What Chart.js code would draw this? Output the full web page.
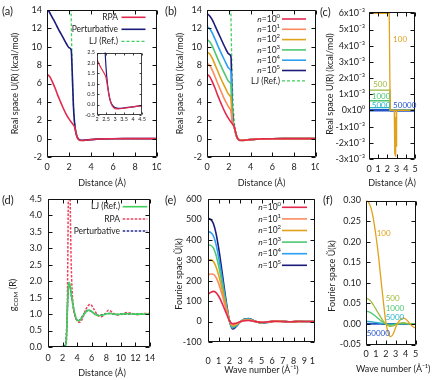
<!DOCTYPE html>
<html lang="en">
<head>
<meta charset="UTF-8">
<title>Pair potential panels</title>
<script src="https://cdn.jsdelivr.net/npm/chart.js"></script>
<style>
  body { margin: 0; background: #fff; }
  #fig { position: relative; width: 440px; height: 380px; overflow: hidden; font-family: Lato, "DejaVu Sans", sans-serif; }
  #fig canvas { position: absolute; }
  .tag { position: absolute; z-index: 5; font-size: 11px; line-height: 1; color: #222; }
</style>
</head>
<body>
<div id="fig"></div>
<script>
// ---------- data ----------
// (a)/(b) real-space potential vs distance (Å)
const rGrid = [0, 0.25, 0.5, 0.75, 1, 1.25, 1.5, 1.75, 2, 2.2, 2.3, 2.4, 2.5, 2.6, 2.7, 2.8, 2.9, 3.0, 3.2, 3.5, 4, 4.5, 5, 6, 7, 8, 10];
const uRPA  = [7.0, 6.75, 6.15, 5.45, 4.65, 3.95, 3.25, 2.65, 2.15, 1.8, 1.65, 1.5, 1.3, 0.8, 0.35, 0.02, -0.12, -0.2, -0.21, -0.17, -0.11, -0.05, -0.03, -0.01, 0, 0, 0];
const uPert = [14.25, 13.7, 13.15, 12.6, 12.0, 11.45, 10.9, 10.35, 9.9, 9.65, 7.0, 3.6, 1.8, 0.85, 0.3, 0.05, -0.08, -0.14, -0.18, -0.16, -0.11, -0.05, -0.03, -0.01, 0, 0, 0];
const rLJ = [2.15, 2.2, 2.25, 2.3, 2.4, 2.5, 2.6, 2.7, 2.8, 2.9, 3.0, 3.2, 3.5, 4, 4.5, 5, 6, 7, 8, 10];
const uLJ = [18, 13.2, 9.8, 7.0, 3.7, 1.85, 0.9, 0.35, 0.02, -0.12, -0.18, -0.21, -0.18, -0.12, -0.06, -0.035, -0.012, -0.005, 0, 0];
const uN10  = [8.2, 7.95, 7.4, 6.7, 5.95, 5.25, 4.55, 3.95, 3.4, 2.95, 2.0, 1.55, 1.2, 0.75, 0.3, 0.05, -0.08, -0.14, -0.18, -0.16, -0.11, -0.05, -0.03, -0.01, 0, 0, 0];
const uN100 = [9.45, 9.2, 8.7, 8.0, 7.3, 6.6, 5.95, 5.35, 4.8, 4.4, 2.1, 1.55, 1.2, 0.75, 0.3, 0.05, -0.08, -0.14, -0.18, -0.16, -0.11, -0.05, -0.03, -0.01, 0, 0, 0];
const uN1e3 = [10.8, 10.55, 10.05, 9.35, 8.65, 8.0, 7.35, 6.75, 6.2, 5.85, 2.4, 1.6, 1.2, 0.75, 0.3, 0.05, -0.08, -0.14, -0.18, -0.16, -0.11, -0.05, -0.03, -0.01, 0, 0, 0];
const uN1e4 = [12.2, 11.95, 11.45, 10.8, 10.1, 9.45, 8.8, 8.2, 7.65, 7.3, 3.0, 1.7, 1.25, 0.75, 0.3, 0.05, -0.08, -0.14, -0.18, -0.16, -0.11, -0.05, -0.03, -0.01, 0, 0, 0];
const uN1e5 = [13.6, 13.35, 12.9, 12.25, 11.6, 10.95, 10.3, 9.7, 9.2, 8.9, 4.0, 1.9, 1.3, 0.8, 0.3, 0.05, -0.08, -0.14, -0.18, -0.16, -0.11, -0.05, -0.03, -0.01, 0, 0, 0];
const nLabels = ['*n*=10^{0}', '*n*=10^{1}', '*n*=10^{2}', '*n*=10^{3}', '*n*=10^{4}', '*n*=10^{5}'];

// (c) zoom on small potentials
const cSeries = ['100', '500', '1000', '5000', '50000'];
const cX100 = [0, 2.2, 2.3, 2.75, 2.78, 2.82, 2.86, 2.9, 2.94, 3.0, 5];
const cU100 = [0.006, 0.006, 0, 0, -0.0027, -0.0002, -0.0028, -0.0004, -0.0022, 0, 0];
const cXStep = [0, 2.28, 2.32, 5];
const cU500 = [0.00125, 0.00125, 0, 0];
const cU1000 = [0.0006, 0.0006, 0, 0];
const cU5000 = [0.00017, 0.00017, 0, 0];
const cU50000 = [0.00001, 0.00001, 0, 0];
const cYLabels = ['-3x10⁻³', '-2x10⁻³', '-1x10⁻³', '0x10⁰', '1x10⁻³', '2x10⁻³', '3x10⁻³', '4x10⁻³', '5x10⁻³', '6x10⁻³'];

// (d) g_COM(R)
const rG = [0, 2.2, 2.4, 2.5, 2.6, 2.7, 2.8, 2.9, 3.0, 3.2, 3.5, 3.8, 4.1, 4.4, 4.8, 5.2, 5.6, 6.0, 6.5, 7.0, 7.5, 8.0, 8.5, 9.0, 9.5, 10, 11, 12, 13, 14];
const gLJ   = [0, 0, 0.02, 0.2, 0.7, 1.35, 1.8, 1.97, 1.9, 1.6, 1.2, 0.92, 0.8, 0.82, 0.95, 1.07, 1.12, 1.08, 0.99, 0.95, 0.97, 1.01, 1.02, 1.0, 0.99, 1.0, 1.01, 1.0, 1.0, 1.0];
const gPert = [0, 0.02, 0.08, 0.28, 0.78, 1.4, 1.82, 1.95, 1.88, 1.58, 1.18, 0.9, 0.8, 0.83, 0.96, 1.08, 1.11, 1.07, 0.99, 0.96, 0.98, 1.01, 1.02, 1.0, 0.99, 1.0, 1.0, 1.0, 1.0, 1.0];
const rGRPA = [0, 2.3, 2.5, 2.6, 2.7, 2.8, 2.9, 3.0, 3.1, 3.2, 3.4, 3.7, 4.0, 4.3, 4.7, 5.2, 5.8, 6.3, 6.8, 7.3, 7.8, 8.3, 8.8, 9.5, 10.2, 10.8, 11.5, 12.3, 13, 14];
const gRPA  = [0, 0, 0.1, 0.6, 2.2, 4.8, 6.0, 5.2, 3.6, 2.4, 1.4, 0.95, 0.8, 0.75, 0.85, 1.15, 1.3, 1.15, 0.97, 0.92, 1.0, 1.12, 1.06, 0.97, 1.0, 1.05, 1.02, 0.98, 1.02, 1.02];

// (e) Fourier-space potential
const kGrid = [0, 0.25, 0.5, 0.75, 1.0, 1.25, 1.5, 1.75, 2.0, 2.3, 2.6, 3.0, 3.4, 3.8, 4.3, 5.0, 5.6, 6.3, 7.0, 7.7, 8.5, 9.2, 10];
const uk1   = [134, 143, 148, 142, 124, 98, 67, 35, 4, -11, -8, -1, 4, 5, 1, -3, -1, 1, 0, -1, 0, 0, 0];
const uk10  = [228, 233, 232, 216, 185, 144, 97, 49, 5, -16, -12, -1, 6, 7, 2, -4, -2, 2, 0, -1, 1, 0, 0];
const uk100 = [302, 302, 294, 268, 226, 173, 114, 56, 5, -21, -16, -2, 8, 9, 2, -5, -2, 2, 1, -1, 1, 0, 0];
const uk1e3 = [375, 373, 361, 326, 272, 206, 134, 65, 5, -26, -20, -2, 10, 11, 3, -6, -3, 3, 1, -1, 1, 0, 0];
const uk1e4 = [440, 436, 420, 378, 314, 236, 152, 73, 5, -31, -23, -3, 11, 13, 3, -7, -3, 3, 1, -2, 1, 0, 0];
const uk1e5 = [505, 500, 480, 432, 358, 268, 172, 82, 5, -36, -26, -3, 13, 15, 4, -8, -4, 4, 1, -2, 2, 0, 0];

// (f) Fourier-space, small n
const fGrid = [0, 0.25, 0.5, 0.75, 1, 1.25, 1.5, 1.75, 2, 2.25, 2.5, 2.75, 3, 3.25, 3.5, 3.75, 4, 4.25, 4.5, 4.75, 5];
const fU100   = [0.300, 0.296, 0.282, 0.255, 0.215, 0.168, 0.11, 0.055, 0.005, -0.022, -0.031, -0.024, -0.008, 0.004, 0.011, 0.014, 0.012, 0.006, -0.001, -0.007, -0.010];
const fU500   = [0.062, 0.060, 0.055, 0.046, 0.036, 0.026, 0.016, 0.007, 0.0, -0.004, -0.006, -0.005, -0.002, 0.001, 0.002, 0.003, 0.002, 0.001, 0, -0.001, -0.001];
const fU1000  = [0.031, 0.030, 0.027, 0.023, 0.018, 0.013, 0.008, 0.003, 0.0, -0.002, -0.003, -0.002, -0.001, 0, 0.001, 0.001, 0.001, 0, 0, 0, 0];
const fU5000  = [0.006, 0.006, 0.0055, 0.0046, 0.0036, 0.0026, 0.0016, 0.0007, 0, -0.0004, -0.0006, -0.0005, -0.0002, 0, 0.0002, 0.0003, 0.0002, 0.0001, 0, 0, 0];
const fU50000 = [0.0006, 0.0006, 0.00055, 0.00046, 0.00036, 0.00026, 0.00016, 0.00007, 0, 0, 0, 0, 0, 0, 0, 0, 0, 0, 0, 0, 0];

// tick values
const rTicks10 = [0, 2, 4, 6, 8, 10];
const uTicks = [-2, 0, 2, 4, 6, 8, 10, 12, 14];
const insetX = [2, 2.5, 3, 3.5, 4, 4.5];
const insetY = [-0.5, 0, 0.5, 1, 1.5, 2, 2.5];
const ticks0to5 = [0, 1, 2, 3, 4, 5];
const cYTicks = [-0.003, -0.002, -0.001, 0, 0.001, 0.002, 0.003, 0.004, 0.005, 0.006];
const dXTicks = [0, 2, 4, 6, 8, 10, 12, 14];
const dYTicks = [0, 0.5, 1, 1.5, 2, 2.5, 3, 3.5, 4, 4.5];
const eXTicks = [0, 1, 2, 3, 4, 5, 6, 7, 8, 9, 10];
const eYTicks = [-100, 0, 100, 200, 300, 400, 500, 600];
const fYTicks = [-0.05, 0, 0.05, 0.1, 0.15, 0.2, 0.25, 0.3];

// ---------- drawing helpers ----------
const FONT = 'Lato, "DejaVu Sans", sans-serif';
const INK = '#222';
Chart.defaults.font.family = FONT;
Chart.defaults.color = INK;

const RED = '#e3294d', ORANGE = '#fb8b5e', GOLD = '#e0a11b', GREEN = '#4cc870',
      BLUE = '#2b9ff2', NAVY = '#1b1b7a', LJG = '#3fcf5a', OLIVE = '#9cba3c',
      TEAL = '#2bb5c8', BLUE2 = '#2353c8';

const fig = document.getElementById('fig');

function parts(s) {
  return (s.match(/\*[^*]+\*|\^\{[^}]*\}|_\{[^}]*\}|[^*^_]+/g) || []).map(t => {
    if (t[0] === '*') return { t: t.slice(1, -1), it: true, dy: 0, k: 1 };
    if (t[0] === '^') return { t: t.slice(2, -1), dy: -0.38, k: 0.7 };
    if (t[0] === '_') return { t: t.slice(2, -1), dy: 0.3, k: 0.7 };
    return { t, dy: 0, k: 1 };
  });
}

function drawRich(ctx, s, x, y, align, size, color) {
  const ps = parts(s);
  const fnt = p => (p.it ? 'italic ' : '') + (size * p.k) + 'px ' + FONT;
  let w = 0;
  ps.forEach(p => { ctx.font = fnt(p); p.w = ctx.measureText(p.t).width; w += p.w; });
  let cx = align === 'right' ? x - w : align === 'center' ? x - w / 2 : x;
  ctx.save();
  ctx.fillStyle = color;
  ctx.textBaseline = 'middle';
  ctx.textAlign = 'left';
  ps.forEach(p => { ctx.font = fnt(p); ctx.fillText(p.t, cx, y + p.dy * size); cx += p.w; });
  ctx.restore();
}

const pts = (xs, ys) => xs.map((x, i) => ({ x, y: ys[i] }));
const line = (label, xs, ys, color, w, dash) =>
  ({ label, data: pts(xs, ys), borderColor: color, borderWidth: w, borderDash: dash || [], fill: false, pointRadius: 0 });

const bg = {
  id: 'bg',
  beforeDraw(c) {
    const ctx = c.ctx;
    ctx.save(); ctx.fillStyle = '#fff'; ctx.fillRect(0, 0, c.width, c.height); ctx.restore();
  }
};

// gnuplot style box with inward ticks on all four sides
const frameTicks = (len, lw) => ({
  id: 'frameTicks',
  afterDatasetsDraw(c) {
    const { ctx, chartArea: a, scales: { x, y } } = c;
    const L = Math.round(a.left) + 0.5, R = Math.round(a.right) - 0.5;
    const T = Math.round(a.top) + 0.5, B = Math.round(a.bottom) - 0.5;
    ctx.save();
    ctx.strokeStyle = '#111';
    ctx.lineWidth = lw;
    ctx.beginPath();
    x.ticks.forEach(t => {
      const p = Math.round(x.getPixelForValue(t.value)) + 0.5;
      ctx.moveTo(p, B); ctx.lineTo(p, B - len);
      ctx.moveTo(p, T); ctx.lineTo(p, T + len);
    });
    y.ticks.forEach(t => {
      const p = Math.round(y.getPixelForValue(t.value)) + 0.5;
      ctx.moveTo(L, p); ctx.lineTo(L + len, p);
      ctx.moveTo(R, p); ctx.lineTo(R - len, p);
    });
    ctx.rect(L, T, R - L, B - T);
    ctx.stroke();
    ctx.restore();
  }
});

// key: text right-aligned, sample line after it
const keyPlugin = k => ({
  id: 'key',
  afterDatasetsDraw(c) {
    const ctx = c.ctx;
    c.data.datasets.forEach((d, i) => {
      const y = k.y + i * k.dy;
      drawRich(ctx, d.label, k.x, y, 'right', k.size, INK);
      ctx.save();
      ctx.strokeStyle = d.borderColor;
      ctx.lineWidth = d.borderWidth;
      ctx.setLineDash(d.borderDash);
      ctx.beginPath(); ctx.moveTo(k.x + k.gap, y); ctx.lineTo(k.x + k.gap + k.len, y); ctx.stroke();
      ctx.restore();
    });
  }
});

// curve labels placed in data coordinates
const tagPlugin = list => ({
  id: 'tags',
  afterDatasetsDraw(c) {
    const { ctx, scales: { x, y } } = c;
    list.forEach(t => {
      const d = c.data.datasets[t.ds];
      drawRich(ctx, d.label, x.getPixelForValue(t.x), y.getPixelForValue(t.y), 'left', 8, d.borderColor);
    });
  }
});

// axis title drawn by hand (no width squeeze), rot = true for the vertical one
const axisTitle = (text, x, y, rot) => ({
  id: 'axisTitle',
  afterDraw(c) {
    const ctx = c.ctx;
    ctx.save(); ctx.translate(x, y);
    if (rot) ctx.rotate(-Math.PI / 2);
    drawRich(ctx, text, 0, 0, 'center', 9, INK);
    ctx.restore();
  }
});

function axis(a, fit) {
  return {
    type: 'linear', min: a.min, max: a.max,
    afterBuildTicks: s => { s.ticks = a.ticks.map(v => ({ value: v })); },
    afterFit: fit,
    grid: { display: false, drawTicks: false },
    border: { display: false },
    ticks: {
      padding: a.pad, autoSkip: false, maxRotation: 0, minRotation: 0,
      font: { size: a.size || 9 }, color: INK, callback: a.fmt
    },
    title: { display: false }
  };
}

// box = canvas [x, y, w, h] on the page, plot = [left, top, right, bottom] of the data area
function panel(o) {
  const [bx, by, bw, bh] = o.box, [L, T, R, B] = o.plot;
  const cv = document.createElement('canvas');
  cv.width = bw; cv.height = bh;
  cv.style.left = bx + 'px'; cv.style.top = by + 'px';
  fig.appendChild(cv);
  const yW = L - bx, xH = by + bh - B;
  const extra = (o.extra || []).slice();
  if (o.xTitle) extra.push(axisTitle(o.xTitle, (L + R) / 2 - bx + (o.xShift || 0), o.xTitleY - by, false));
  if (o.yTitle) extra.push(axisTitle(o.yTitle, o.yTitleX - bx, (o.yTitleY || (T + B) / 2) - by, true));
  return new Chart(cv, {
    type: 'line',
    data: { datasets: o.datasets },
    options: {
      responsive: false, animation: false, events: [],
      layout: { padding: { left: 0, top: T - by, right: bx + bw - R, bottom: 0 }, autoPadding: false },
      elements: { point: { radius: 0 }, line: { tension: 0, cubicInterpolationMode: o.smooth ? 'monotone' : 'default' } },
      plugins: { legend: { display: false }, tooltip: { enabled: false } },
      scales: {
        x: axis(o.x, s => { s.height = xH; s.paddingLeft = 0; s.paddingRight = 0; }),
        y: axis(o.y, s => { s.width = yW; s.paddingTop = 0; s.paddingBottom = 0; })
      }
    },
    plugins: [bg, frameTicks(o.tickLen || 4, o.lw || 1)].concat(extra)
  });
}

const num = v => String(v);
const fix1 = v => v.toFixed(1);
const fix2 = v => v.toFixed(2);
const U_TITLE = 'Real space U(R) (kcal/mol)';
const K_TITLE = 'Fourier space Ũ(k)';

// (a)
panel({
  box: [0, 0, 161, 190], plot: [47, 10, 157, 157], smooth: true,
  x: { min: 0, max: 10, ticks: rTicks10, fmt: num, pad: 4.5 },
  y: { min: -2, max: 14, ticks: uTicks, fmt: num, pad: 5 },
  xTitle: 'Distance (Å)', xTitleY: 183, yTitle: U_TITLE, yTitleX: 15,
  datasets: [
    line('RPA', rGrid, uRPA, RED, 1.6),
    line('Perturbative', rGrid, uPert, NAVY, 1.6),
    line('LJ (Ref.)', rLJ, uLJ, LJG, 1.3, [3, 2])
  ],
  extra: [keyPlugin({ x: 118, y: 17.3, dy: 12, gap: 3.5, len: 24, size: 8.5 })]
});

// (a) inset
panel({
  box: [84, 45, 62, 82], plot: [97, 52.5, 142, 115], smooth: true, tickLen: 2, lw: 0.8,
  x: { min: 2, max: 4.5, ticks: insetX, fmt: num, pad: 1.2, size: 5.5 },
  y: { min: -0.5, max: 2.5, ticks: insetY, fmt: fix1, pad: 2, size: 5.5 },
  datasets: [
    line('RPA', rGrid, uRPA, RED, 1.2),
    line('Perturbative', rGrid, uPert, NAVY, 1.2)
  ]
});

// (b)
panel({
  box: [161, 0, 158, 190], plot: [207, 10, 316, 157], smooth: true,
  x: { min: 0, max: 10, ticks: rTicks10, fmt: num, pad: 4.5 },
  y: { min: -2, max: 14, ticks: uTicks, fmt: num, pad: 5 },
  xTitle: 'Distance (Å)', xTitleY: 183, yTitle: U_TITLE, yTitleX: 180,
  datasets: [
    line(nLabels[0], rGrid, uRPA, RED, 1.6),
    line(nLabels[1], rGrid, uN10, ORANGE, 1.6),
    line(nLabels[2], rGrid, uN100, GOLD, 1.6),
    line(nLabels[3], rGrid, uN1e3, GREEN, 1.6),
    line(nLabels[4], rGrid, uN1e4, BLUE, 1.6),
    line(nLabels[5], rGrid, uN1e5, NAVY, 1.6),
    line('LJ (Ref.)', rLJ, uLJ, LJG, 1.3, [3, 2])
  ],
  extra: [keyPlugin({ x: 119, y: 19, dy: 10.3, gap: 2, len: 24, size: 8.5 })]
});

// (c)
panel({
  box: [319, 0, 121, 190], plot: [369, 11.7, 415, 159],
  x: { min: 0, max: 5, ticks: ticks0to5, fmt: num, pad: 4.6 },
  y: { min: -0.003, max: 0.0061, ticks: cYTicks, fmt: (v, i) => cYLabels[i], pad: 4 },
  xTitle: 'Distance (Å)', xTitleY: 182.7, yTitle: U_TITLE, yTitleX: 330, yTitleY: 84,
  datasets: [
    line(cSeries[0], cX100, cU100, GOLD, 1.3),
    line(cSeries[1], cXStep, cU500, OLIVE, 1.3),
    line(cSeries[2], cXStep, cU1000, GREEN, 1.3),
    line(cSeries[3], cXStep, cU5000, TEAL, 1.3),
    line(cSeries[4], cXStep, cU50000, BLUE2, 2.5)
  ],
  extra: [tagPlugin([
    { ds: 0, x: 2.62, y: 0.0044 }, { ds: 1, x: 0.45, y: 0.0016 }, { ds: 2, x: 0.3, y: 0.00088 },
    { ds: 3, x: 0.3, y: 0.0003 }, { ds: 4, x: 2.62, y: 0.00033 }
  ])]
});

// (d)
panel({
  box: [0, 190, 161, 190], plot: [48, 199, 150, 347], smooth: true,
  x: { min: 0, max: 14, ticks: dXTicks, fmt: num, pad: 5.9 },
  y: { min: 0, max: 4.5, ticks: dYTicks, fmt: fix1, pad: 6 },
  xTitle: 'Distance (Å)', xTitleY: 373, xShift: 3, yTitle: 'g_{COM} (R)', yTitleX: 13, yTitleY: 295,
  datasets: [
    line('LJ (Ref.)', rG, gLJ, LJG, 1.6),
    line('RPA', rGRPA, gRPA, '#f0405a', 1.5, [2.5, 1.5]),
    line('Perturbative', rG, gPert, '#2b2b8a', 1.5, [2.5, 1.5])
  ],
  extra: [keyPlugin({ x: 120, y: 16.7, dy: 12.2, gap: 2.7, len: 24.6, size: 8.5 })]
});

// (e)
panel({
  box: [161, 190, 154, 190], plot: [208, 199, 315, 342], smooth: true,
  x: { min: 0, max: 10, ticks: eXTicks, fmt: num, pad: 13.3 },
  y: { min: -100, max: 600, ticks: eYTicks, fmt: num, pad: 6.3 },
  xTitle: 'Wave number (Å⁻¹)', xTitleY: 370, yTitle: K_TITLE, yTitleX: 179, yTitleY: 274,
  datasets: [
    line(nLabels[0], kGrid, uk1, RED, 1.6),
    line(nLabels[1], kGrid, uk10, ORANGE, 1.6),
    line(nLabels[2], kGrid, uk100, GOLD, 1.6),
    line(nLabels[3], kGrid, uk1e3, GREEN, 1.6),
    line(nLabels[4], kGrid, uk1e4, BLUE, 1.6),
    line(nLabels[5], kGrid, uk1e5, NAVY, 1.6)
  ],
  extra: [keyPlugin({ x: 120, y: 17.3, dy: 11.6, gap: 1, len: 25, size: 8.5 })]
});

// (f)
panel({
  box: [316, 190, 124, 190], plot: [366, 200.5, 415.5, 344.5], smooth: true,
  x: { min: 0, max: 5, ticks: ticks0to5, fmt: num, pad: 4.4 },
  y: { min: -0.05, max: 0.3, ticks: fYTicks, fmt: fix2, pad: 5 },
  xTitle: 'Wave number (Å⁻¹)', xTitleY: 369, xShift: 2.5, yTitle: K_TITLE, yTitleX: 331.7, yTitleY: 276,
  datasets: [
    line(cSeries[0], fGrid, fU100, GOLD, 1.3),
    line(cSeries[1], fGrid, fU500, OLIVE, 1.3),
    line(cSeries[2], fGrid, fU1000, GREEN, 1.3),
    line(cSeries[3], fGrid, fU5000, TEAL, 1.3),
    line(cSeries[4], fGrid, fU50000, BLUE2, 2)
  ],
  extra: [tagPlugin([
    { ds: 0, x: 1.08, y: 0.219 }, { ds: 1, x: 1.99, y: 0.061 }, { ds: 2, x: 1.99, y: 0.038 },
    { ds: 3, x: 1.99, y: 0.015 }, { ds: 4, x: 0.07, y: -0.023 }
  ])]
});

// panel letters
[['(a)', 2, 5], ['(b)', 165, 5], ['(c)', 320, 6], ['(d)', 2, 194], ['(e)', 165, 194], ['(f)', 323, 194]].forEach(([t, x, y]) => {
  const d = document.createElement('div');
  d.className = 'tag'; d.textContent = t;
  d.style.left = x + 'px'; d.style.top = y + 'px';
  fig.appendChild(d);
});
</script>
</body>
</html>
